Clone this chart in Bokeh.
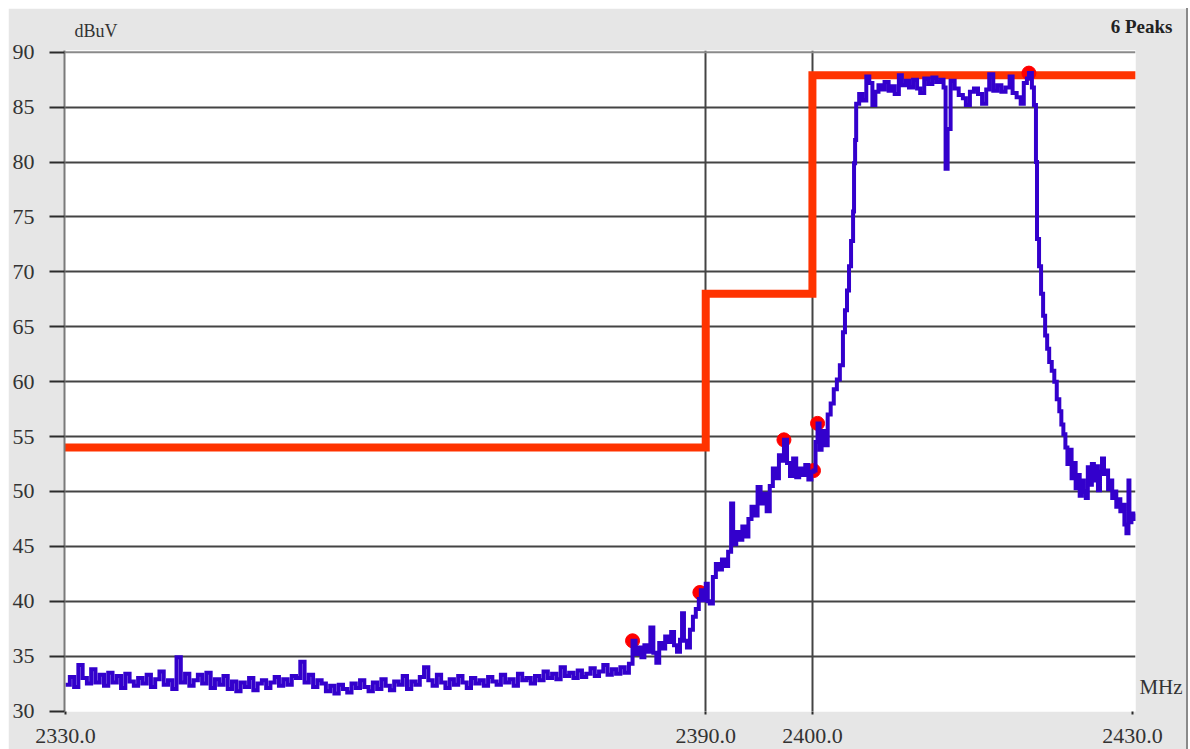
from bokeh.plotting import figure
from bokeh.models import FixedTicker, NumeralTickFormatter, Span, Label, Range1d
from bokeh.embed import file_html
from bokeh.resources import INLINE

# ---------------- data ----------------
y_ticks = [30, 35, 40, 45, 50, 55, 60, 65, 70, 75, 80, 85, 90]
grid_y = [35, 40, 45, 50, 55, 60, 65, 70, 75, 80, 85]
x_ticks = [2330, 2390, 2400, 2430]
grid_x = [2390, 2400]

# limit line (dBuV)
limit_freq = [2329.9, 2390.0, 2390.0, 2400.0, 2400.0, 2430.3]
limit_level = [54.0, 54.0, 68.0, 68.0, 87.9, 87.9]

# measured trace: flat noise floor part
floor_freq = [
    2330.0, 2330.4, 2330.8, 2331.2, 2331.6, 2332.0, 2332.4, 2332.8, 2333.2, 2333.6,
    2334.0, 2334.4, 2334.8, 2335.2, 2335.6, 2336.0, 2336.4, 2336.8, 2337.2, 2337.6,
    2338.0, 2338.4, 2338.8, 2339.2, 2339.6, 2340.0, 2340.4, 2340.8, 2341.2, 2341.6,
    2342.0, 2342.4, 2342.8, 2343.2, 2343.6, 2344.0, 2344.4, 2344.8, 2345.2, 2345.6,
    2346.0, 2346.4, 2346.8, 2347.2, 2347.6, 2348.0, 2348.4, 2348.8, 2349.2, 2349.6,
    2350.0, 2350.4, 2350.8, 2351.2, 2351.6, 2352.0, 2352.4, 2352.8, 2353.2, 2353.6,
    2354.0, 2354.4, 2354.8, 2355.2, 2355.6, 2356.0, 2356.4, 2356.8, 2357.2, 2357.6,
    2358.0, 2358.4, 2358.8, 2359.2, 2359.6, 2360.0, 2360.4, 2360.8, 2361.2, 2361.6,
    2362.0, 2362.4, 2362.8, 2363.2, 2363.6, 2364.0, 2364.4, 2364.8, 2365.2, 2365.6,
    2366.0, 2366.4, 2366.8, 2367.2, 2367.6, 2368.0, 2368.4, 2368.8, 2369.2, 2369.6,
    2370.0, 2370.4, 2370.8, 2371.2, 2371.6, 2372.0, 2372.4, 2372.8, 2373.2, 2373.6,
    2374.0, 2374.4, 2374.8, 2375.2, 2375.6, 2376.0, 2376.4, 2376.8, 2377.2, 2377.6,
    2378.0, 2378.4, 2378.8, 2379.2, 2379.6, 2380.0, 2380.4, 2380.8, 2381.2, 2381.6,
    2382.0, 2382.4, 2382.8,
]
floor_level = [
    32.4, 33.1, 32.2, 34.2, 33.0, 32.5, 33.8, 32.6, 33.3, 32.3,
    33.5, 32.6, 33.2, 32.1, 33.4, 32.7, 32.3, 33.0, 32.5, 33.3,
    32.2, 32.9, 33.6, 32.4, 32.8, 32.0, 34.9, 32.6, 33.4, 32.3,
    32.8, 33.3, 32.5, 33.5, 32.1, 32.9, 32.4, 33.2, 32.0, 32.7,
    31.8, 32.6, 32.2, 33.0, 31.9, 32.5, 32.8, 32.1, 32.6, 33.1,
    32.3, 32.9, 32.4, 33.2, 33.0, 34.5, 32.6, 33.3, 32.2, 32.8,
    32.5, 31.8, 32.3, 31.6, 32.4, 32.0, 31.7, 32.5, 32.1, 32.8,
    32.2, 31.8, 32.6, 32.0, 32.9, 32.3, 31.9, 32.7, 32.4, 33.2,
    32.0, 32.7, 32.4, 33.1, 34.0, 32.8, 32.3, 33.3, 32.6, 32.1,
    32.9, 32.4, 33.2, 32.6, 32.1, 33.0, 32.5, 32.8, 32.3, 33.1,
    32.7, 32.4, 33.3, 32.6, 32.9, 32.3, 33.4, 32.8, 33.0, 32.5,
    33.2, 32.8, 33.6, 33.0, 33.4, 32.9, 34.0, 33.2, 33.5, 33.0,
    33.7, 33.1, 33.4, 33.9, 33.2, 33.6, 34.2, 33.3, 33.8, 33.4,
    34.0, 33.5, 34.3,
]

# measured trace: band edge, carrier and upper skirt
band_freq = [
    2383.14, 2383.42, 2383.70, 2383.97, 2384.25, 2384.53, 2384.81, 2385.09, 2385.37, 2385.64,
    2385.92, 2386.20, 2386.48, 2386.76, 2387.03, 2387.31, 2387.59, 2387.78, 2387.96, 2388.24,
    2388.52, 2388.80, 2389.07, 2389.35, 2389.54, 2389.72, 2390.00, 2390.19, 2390.38, 2390.67,
    2390.95, 2391.24, 2391.52, 2391.81, 2392.10, 2392.38, 2392.57, 2392.86, 2393.14, 2393.43,
    2393.71, 2394.00, 2394.29, 2394.57, 2394.86, 2395.14, 2395.43, 2395.71, 2396.00, 2396.29,
    2396.57, 2396.86, 2397.14, 2397.33, 2397.62, 2397.90, 2398.19, 2398.48, 2398.76, 2399.05,
    2399.33, 2399.62, 2399.90, 2400.10, 2400.29, 2400.48, 2400.67, 2400.86, 2401.14, 2401.43,
    2401.71, 2402.00, 2402.29, 2402.57, 2402.86, 2403.05, 2403.24, 2403.43, 2403.62, 2403.81,
    2403.90, 2404.00, 2404.10, 2404.38, 2404.67,
    2405.05, 2405.33, 2405.62, 2405.90, 2406.19, 2406.48, 2406.76, 2407.14, 2407.43, 2407.71,
    2408.10, 2408.38, 2408.76, 2409.05, 2409.43, 2409.81, 2410.10, 2410.48, 2410.86, 2411.24,
    2411.62, 2412.00, 2412.29, 2412.48, 2412.67, 2412.95, 2413.33, 2413.71, 2414.10, 2414.38,
    2414.76, 2415.14, 2415.52, 2415.90, 2416.29, 2416.57, 2416.95, 2417.33, 2417.71, 2418.10,
    2418.48, 2418.76, 2419.14, 2419.52, 2419.81, 2420.10, 2420.29, 2420.57, 2420.76,
    2420.95, 2421.05, 2421.24, 2421.43, 2421.62, 2421.81, 2422.00, 2422.19, 2422.43, 2422.67,
    2422.90, 2423.14, 2423.33, 2423.52, 2423.71, 2423.90, 2424.10, 2424.29, 2424.48, 2424.67,
    2424.86, 2425.05, 2425.24, 2425.43, 2425.62, 2425.81, 2426.00, 2426.19, 2426.38, 2426.57,
    2426.76, 2426.95, 2427.14, 2427.33, 2427.52, 2427.71, 2427.90, 2428.10, 2428.29, 2428.48,
    2428.67, 2428.86, 2429.05, 2429.24, 2429.43, 2429.62, 2429.71, 2429.90, 2430.10, 2430.24,
]
band_level = [
    36.4, 35.2, 35.8, 34.9, 36.0, 35.4, 37.6, 35.3, 34.4, 36.2,
    35.7, 36.8, 36.3, 37.2, 36.0, 35.4, 36.5, 38.9, 36.4, 35.8,
    37.4, 38.6, 39.3, 40.2, 41.0, 40.1, 41.6, 40.0, 39.8, 42.2,
    43.4, 42.9, 43.8, 43.2, 44.5, 48.9, 45.2, 46.3, 45.6, 46.8,
    45.9, 47.5, 48.6, 47.8, 50.4, 48.9, 49.8, 48.2, 50.5, 52.1,
    51.2, 53.3, 52.8, 54.7, 52.6, 51.4, 53.0, 51.3, 52.1, 51.5,
    52.4, 51.1, 51.8, 51.9, 54.5, 56.2, 53.8, 55.5, 54.2, 57.0,
    58.0, 59.3, 60.2, 61.5, 64.5, 66.5, 68.3, 70.5, 72.8, 75.5,
    79.9, 82.0, 85.3, 86.2, 85.6,
    87.8, 87.2, 85.2, 86.4, 87.0, 86.6, 87.3, 86.5, 86.9, 86.2,
    87.9, 87.0, 87.4, 86.8, 87.5, 86.7, 86.3, 87.6, 87.1, 87.7,
    87.3, 87.5, 86.8, 79.4, 83.0, 87.4, 86.7, 86.1, 85.8, 85.2,
    86.4, 86.7, 86.2, 85.3, 86.6, 88.0, 86.5, 87.0, 86.4, 86.8,
    87.8, 86.3, 85.9, 85.3, 87.2, 87.6, 88.1, 86.8, 85.2,
    80.0, 73.0, 70.5, 68.0, 66.0, 64.2, 63.0, 61.8, 61.0, 60.0,
    58.4, 57.3, 56.1, 55.2, 54.0, 52.5, 53.8, 51.2, 52.6, 50.3,
    51.5, 49.6, 51.0, 50.0, 49.4, 52.2, 50.6, 52.5, 51.0, 52.3,
    50.1, 51.8, 53.0, 51.6, 51.9, 50.2, 51.0, 49.4, 50.0, 48.6,
    49.3, 48.2, 48.8, 47.0, 46.2, 51.0, 47.2, 48.0, 47.5, 48.0,
]

trace_freq = floor_freq + band_freq
trace_level = floor_level + band_level

# detected peaks
peak_freq = [2383.14, 2389.45, 2397.33, 2400.10, 2400.48, 2420.29]
peak_level = [36.4, 40.8, 54.7, 51.9, 56.2, 88.1]

# ---------------- styling ----------------
FONT = "Liberation Serif"
TXT = "#333333"
GRID = "#444444"

p = figure(
    frame_width=1071, frame_height=661,
    x_range=Range1d(2329.9, 2430.28), y_range=Range1d(29.96, 90.16),
    output_backend="svg", toolbar_location=None,
    min_border_left=56, min_border_right=51, min_border_top=42, min_border_bottom=38,
    background_fill_color="white", border_fill_color="#e6e6e6",
    outline_line_color=None,
)
p.margin = (8, 0, 0, 8)
p.styles = {"border-right": "2px solid #8a8a8a"}

# grids
p.ygrid.ticker = FixedTicker(ticks=grid_y)
p.xgrid.ticker = FixedTicker(ticks=grid_x)
for g in (p.xgrid, p.ygrid):
    g.grid_line_color = GRID
    g.grid_line_width = 2
    g.grid_line_alpha = 1.0

p.add_layout(Span(location=90, dimension="width", line_color="#8a8a8a", line_width=2))

# y axis
ya = p.yaxis[0]
ya.ticker = FixedTicker(ticks=y_ticks, minor_ticks=[])
ya.axis_line_color = "#7a7a7a"
ya.axis_line_width = 2
ya.major_tick_out = 15
ya.major_tick_in = 0
ya.major_tick_line_width = 2
ya.major_tick_line_color = "#2b2b2b"
ya.minor_tick_out = 0
ya.minor_tick_in = 0
ya.major_label_standoff = 15
ya.major_label_text_font = FONT
ya.major_label_text_font_size = "22px"
ya.major_label_text_color = TXT

# x axis
xa = p.xaxis[0]
xa.ticker = FixedTicker(ticks=x_ticks, minor_ticks=[])
xa.formatter = NumeralTickFormatter(format="0.0")
xa.axis_line_color = None
xa.major_tick_out = 10
xa.major_tick_in = 0
xa.major_tick_line_width = 2
xa.major_tick_line_color = "#2b2b2b"
xa.major_tick_line_dash = "3 7"
xa.major_tick_line_dash_offset = 3
xa.minor_tick_out = 0
xa.minor_tick_in = 0
xa.major_label_standoff = 7
xa.major_label_text_font = FONT
xa.major_label_text_font_size = "22px"
xa.major_label_text_color = TXT

# marks
p.line(limit_freq, limit_level, line_color="#ff3300", line_width=8,
       line_join="miter", line_cap="butt")
p.scatter(peak_freq, peak_level, marker="circle", size=14,
          fill_color="#ff0000", line_color="#ff0000")
p.step(trace_freq, trace_level, mode="after", line_color="#3300cc", line_width=4,
       line_join="miter")

# texts (placed in side panels so they are not clipped to the frame)
p.add_layout(Label(x=2330.84, y=91.98, text="dBuV", text_font=FONT, text_font_size="18px",
                   text_color=TXT, text_baseline="alphabetic", text_align="left"), "above")
p.add_layout(Label(x=2433.74, y=92.37, text="6 Peaks", text_font=FONT, text_font_size="19px",
                   text_font_style="bold", text_color="#222222", text_baseline="alphabetic",
                   text_align="right"), "above")
p.add_layout(Label(x=2430.65, y=32.19, text="MHz", text_font=FONT, text_font_size="21px",
                   text_color=TXT, text_baseline="alphabetic", text_align="left"), "right")

open("out.html", "w").write(file_html(p, INLINE))
